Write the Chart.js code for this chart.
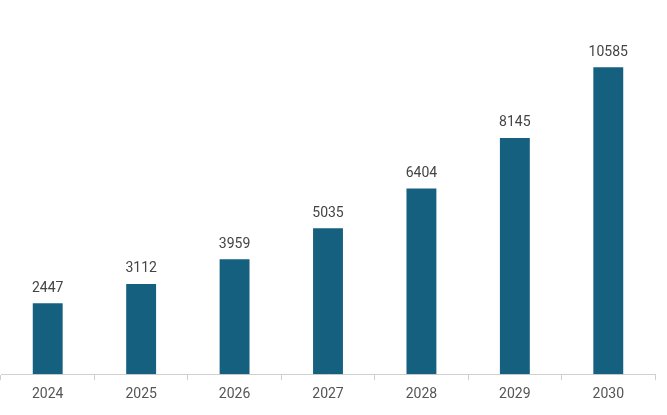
<!DOCTYPE html>
<html lang="en">
<head>
<meta charset="UTF-8">
<script src="https://cdn.jsdelivr.net/npm/chart.js"></script>
<style>
  body { margin: 0; background: #fff; }
  #wrap { width: 667px; height: 415px; }
</style>
</head>
<body>
<div id="wrap"><canvas id="myChart" width="667" height="415"></canvas></div>
<script>
// chart data
const years = ['2024', '2025', '2026', '2027', '2028', '2029', '2030'];
const values = [2447, 3112, 3959, 5035, 6404, 8145, 10585];

// draws the value above each bar
const barLabels = {
  id: 'barLabels',
  afterDatasetsDraw(chart) {
    const ctx = chart.ctx;
    const meta = chart.getDatasetMeta(0);
    ctx.save();
    ctx.font = '14px Roboto, "Liberation Sans", sans-serif';
    ctx.fillStyle = '#444444';
    ctx.textAlign = 'center';
    ctx.textBaseline = 'bottom';
    meta.data.forEach((bar, i) => {
      ctx.fillText(String(values[i]), bar.x, bar.y - 8);
    });
    ctx.restore();
  }
};

const config = {
  type: 'bar',
  data: {
    labels: years,
    datasets: [{
      data: values,
      backgroundColor: '#16607f',
      barPercentage: 0.32,
      categoryPercentage: 1.0
    }]
  },
  options: {
    responsive: false,
    animation: false,
    layout: { padding: { left: 1, right: 12, top: 0, bottom: 6 } },
    scales: {
      x: {
        grid: {
          display: true,
          drawOnChartArea: false,
          offset: true,
          tickLength: 6,
          color: '#d0d0d0'
        },
        border: { color: '#d0d0d0' },
        ticks: {
          color: '#555555',
          padding: 6,
          font: { size: 14, family: 'Roboto, "Liberation Sans", sans-serif' }
        }
      },
      y: {
        display: false,
        min: 0,
        max: 12900
      }
    },
    plugins: {
      legend: { display: false },
      tooltip: { enabled: false }
    }
  },
  plugins: [barLabels]
};

const myChart = new Chart(document.getElementById('myChart').getContext('2d'), config);
</script>
</body>
</html>
